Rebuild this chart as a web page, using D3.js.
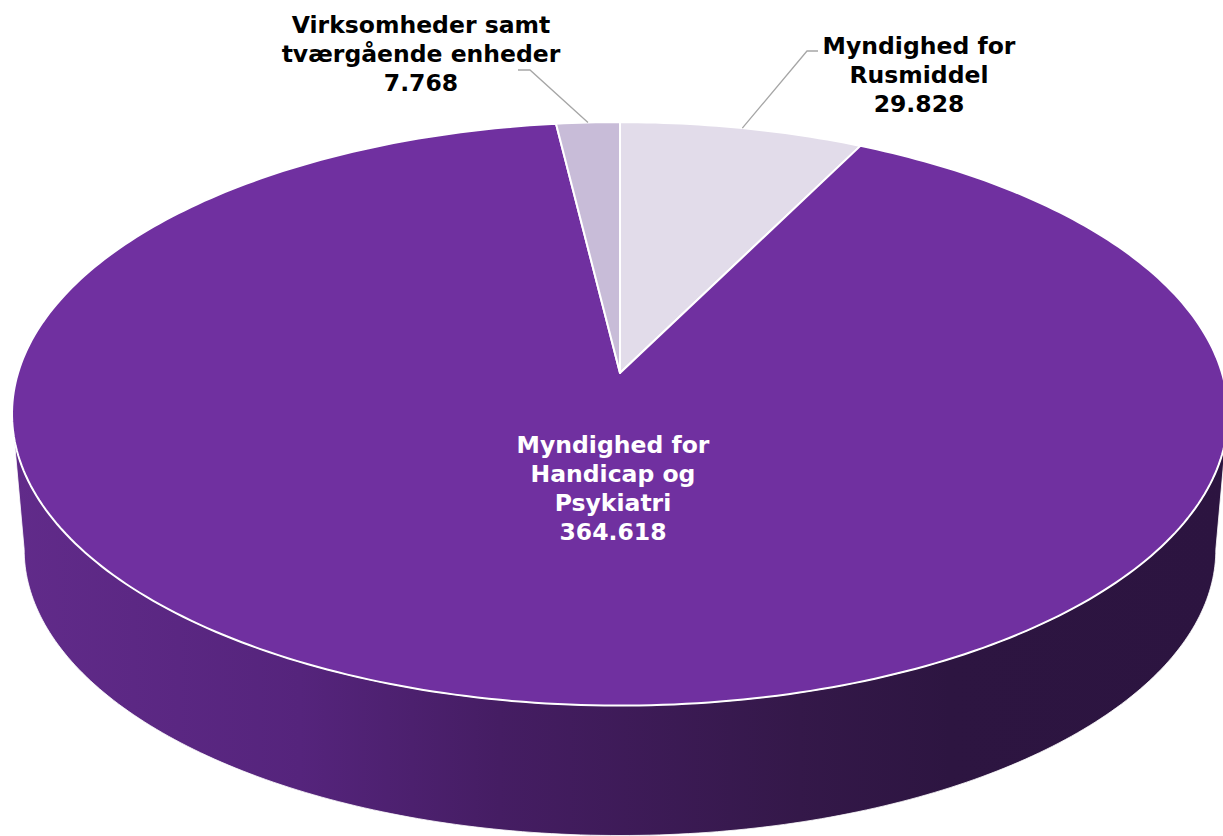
<!DOCTYPE html>
<html><head><meta charset="utf-8">
<script src="https://cdn.jsdelivr.net/npm/d3@7"></script>
<style>body{margin:0;background:#fff} svg{display:block}</style>
</head><body><svg id="c" width="1223" height="836"></svg>
<script>
// ---- data ----
const categories = ["Myndighed for Rusmiddel", "Myndighed for Handicap og Psykiatri", "Virksomheder samt tværgående enheder"];
const values = [29.828, 364.618, 7.768];
const valueLabels = ["29.828", "364.618", "7.768"];
const labelLines = [["Myndighed for", "Rusmiddel"], ["Myndighed for", "Handicap og", "Psykiatri"], ["Virksomheder samt", "tværgående enheder"]];
const sliceColors = ["#E2DCEA", "#7030A0", "#C8BCD8"];

// ---- layout ----
const svg = d3.select("#c");
const cx = 620, cy = 373, A = 602, B = 286, k = 0.14;
const bottomScale = 0.98, cyBottom = 509.6;

function proj(theta, bottom) {
  const s = bottom ? bottomScale : 1;
  const yc = bottom ? cyBottom : cy;
  const u = Math.sin(theta), v = -Math.cos(theta);
  const den = 1 + k * Math.cos(theta);
  return [cx + A * s * u / den, yc + B * s * v / den];
}

const pie = d3.pie().sort(null).value(d => d);
const arcs = pie(values);

// gradient for side wall
const defs = svg.append("defs");
const grad = defs.append("linearGradient").attr("id", "side")
  .attr("gradientUnits", "userSpaceOnUse").attr("x1", 12).attr("x2", 1228).attr("y1", 0).attr("y2", 0);
[[0, "#612B8A"], [0.237, "#55247C"], [0.401, "#451D63"], [0.648, "#341849"], [0.771, "#2D1541"], [1, "#2C1440"]]
  .forEach(([o, c]) => grad.append("stop").attr("offset", o).attr("stop-color", c));

// side wall (front half)
const thA = Math.acos(-k), thB = 2 * Math.PI - Math.acos(-k);
const N = 200;
const sidePts = [];
for (let i = 0; i <= N; i++) sidePts.push(proj(thA + (thB - thA) * i / N, false));
for (let i = N; i >= 0; i--) sidePts.push(proj(thA + (thB - thA) * i / N, true));
svg.append("path").attr("d", d3.line()(sidePts) + "Z").attr("fill", "url(#side)")
  .attr("stroke", "#fff").attr("stroke-width", 0.8);

// top face slices
const topG = svg.append("g");
arcs.forEach((a, i) => {
  const n = Math.max(8, Math.ceil((a.endAngle - a.startAngle) * 60));
  const pts = [[cx, cy]];
  for (let j = 0; j <= n; j++) pts.push(proj(a.startAngle + (a.endAngle - a.startAngle) * j / n, false));
  topG.append("path").attr("d", d3.line()(pts) + "Z")
    .attr("fill", sliceColors[i]).attr("stroke", "#fff").attr("stroke-width", 2)
    .attr("stroke-linejoin", "round");
});

// labels
const font = "'DejaVu Sans', Verdana, sans-serif";
const fs = 23.5, lh = 29;
const labelPos = [
  { x: 919, y: 54, color: "#000", leader: [[818, 51], [807, 51]] },
  { x: 613, y: 453, color: "#fff", leader: null },
  { x: 421, y: 33, color: "#000", leader: [[518, 70], [530, 70]] }
];
arcs.forEach((a, i) => {
  const p = labelPos[i];
  if (p.leader) {
    const mid = proj((a.startAngle + a.endAngle) / 2, false);
    svg.append("path").attr("d", d3.line()([...p.leader, mid]))
      .attr("fill", "none").attr("stroke", "#A6A6A6").attr("stroke-width", 1.3);
  }
  const lines = labelLines[i].concat([valueLabels[i]]);
  const t = svg.append("text").attr("text-anchor", "middle")
    .attr("font-family", font).attr("font-weight", "bold").attr("font-size", fs)
    .attr("fill", p.color);
  lines.forEach((l, j) => t.append("tspan").attr("x", p.x).attr("y", p.y + j * lh).text(l));
});
</script></body></html>
